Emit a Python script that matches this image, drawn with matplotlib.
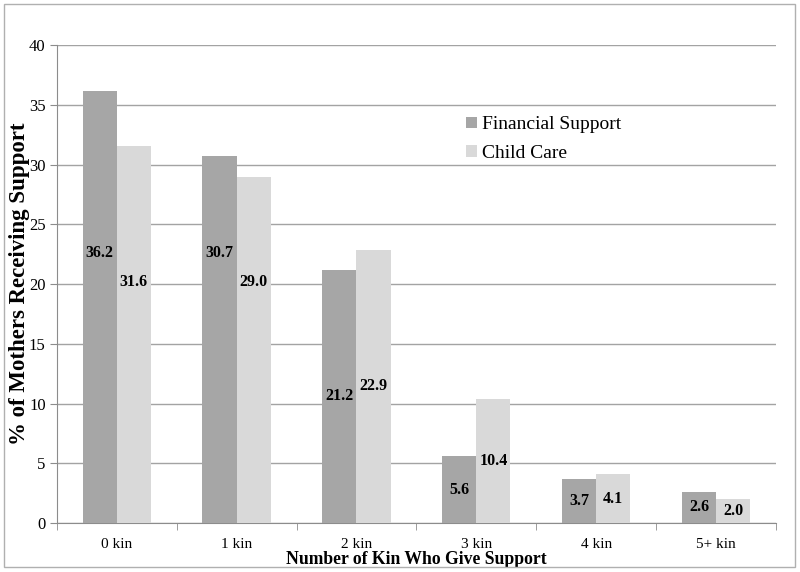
import numpy as np
import matplotlib
matplotlib.use("Agg")
import matplotlib.pyplot as plt
from matplotlib.patches import Rectangle

categories = ["0 kin", "1 kin", "2 kin", "3 kin", "4 kin", "5+ kin"]
financial = [36.2, 30.7, 21.2, 5.6, 3.7, 2.6]
child_care = [31.6, 29.0, 22.9, 10.4, 4.1, 2.0]

FIN_COLOR = "#a6a6a6"
CHILD_COLOR = "#d9d9d9"
GRID = "#a3a3a3"
AXIS = "#8c8c8c"

plt.rcParams["font.family"] = ["Liberation Serif", "DejaVu Serif"]

fig = plt.figure(figsize=(8, 5.72), dpi=100)
fig.patch.set_facecolor("white")
fig.patches.append(Rectangle((0.005, 0.008), 0.989, 0.985, transform=fig.transFigure,
                             fill=False, edgecolor="#b0b0b0", linewidth=1.0))
ax = fig.add_axes([0.071, 0.0857, 0.899, 0.835])

x = np.arange(len(categories))
w = 0.285
ax.bar(x - w / 2, financial, w, color=FIN_COLOR, label="Financial Support", zorder=3)
ax.bar(x + w / 2, child_care, w, color=CHILD_COLOR, label="Child Care", zorder=3)


def label_y(v, tall_pos):
    # mid-bar for short bars; tall bars get their labels at a fixed height
    return v / 2 if v < 25 else tall_pos


for xi, v in zip(x, financial):
    ax.text(xi - w / 2, label_y(v, 22.6), f"{v:.1f}", ha="center", va="center",
            fontsize=11.5, fontweight="bold", zorder=4)
for xi, v in zip(x, child_care):
    ax.text(xi + w / 2, label_y(v, 20.2), f"{v:.1f}", ha="center", va="center",
            fontsize=11.5, fontweight="bold", zorder=4)

ax.set_xlim(-0.5, len(categories) - 0.5)
ax.set_ylim(0, 40)
ax.set_yticks(range(0, 41, 5))
ax.yaxis.grid(True, color=GRID, linewidth=1.0, zorder=0)
ax.set_axisbelow(True)

ax.set_xticks(x)
ax.set_xticklabels(categories, fontsize=11)
ax.set_xticks(np.arange(-0.5, len(categories), 1.0), minor=True)
ax.tick_params(axis="x", which="major", length=0, pad=11)
ax.tick_params(axis="x", which="minor", length=5, color=AXIS, direction="out")
ax.tick_params(axis="y", length=5, color=AXIS, labelsize=12, direction="out", pad=3)

for s in ["top", "right"]:
    ax.spines[s].set_visible(False)
ax.spines["left"].set_color(AXIS)
ax.spines["bottom"].set_color(AXIS)

ax.set_xlabel("Number of Kin Who Give Support", fontsize=12.7, fontweight="bold", labelpad=0)
ax.set_ylabel("% of Mothers Receiving Support", fontsize=16.5, fontweight="bold")
ax.yaxis.set_label_coords(-0.037, 0.5)

ax.legend(loc="upper left", bbox_to_anchor=(0.545, 0.888), frameon=False, fontsize=14,
          handlelength=0.55, handleheight=0.55, handletextpad=0.25, labelspacing=0.6)

fig.savefig("out.png", dpi=100)
